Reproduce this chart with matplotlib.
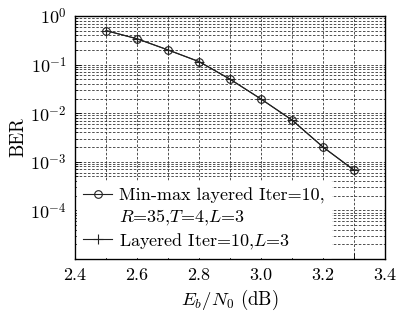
import matplotlib
matplotlib.use("Agg")
import matplotlib.pyplot as plt
from matplotlib.lines import Line2D
from matplotlib.ticker import FixedLocator, LogLocator, NullFormatter, FixedFormatter

plt.rcParams['font.family'] = 'serif'
plt.rcParams['font.serif'] = ['cmr10', 'DejaVu Serif']
plt.rcParams['mathtext.fontset'] = 'cm'
plt.rcParams['axes.formatter.use_mathtext'] = True

ebn0 = [2.5, 2.6, 2.7, 2.8, 2.9, 3.0, 3.1, 3.2, 3.3]
ber_minmax = [0.50, 0.34, 0.20, 0.115, 0.050, 0.0195, 0.0072, 0.0020, 0.00067]
ber_layered = [0.50, 0.34, 0.20, 0.115, 0.050, 0.0195, 0.0072, 0.0020, 0.00067]
xtick_vals = [2.4, 2.5, 2.6, 2.7, 2.8, 2.9, 3.0, 3.1, 3.2, 3.3, 3.4]
xtick_labels = ['2.4', '', '2.6', '', '2.8', '', '3.0', '', '3.2', '', '3.4']
ytick_vals = [1e-5, 1e-4, 1e-3, 1e-2, 1e-1, 1e0]
ytick_labels = ['', r'$10^{-4}$', r'$10^{-3}$', r'$10^{-2}$', r'$10^{-1}$', r'$10^{0}$']
legend_labels = ['Min-max layered Iter=10,', '$R$=35,$T$=4,$L$=3', 'Layered Iter=10,$L$=3']

fig = plt.figure(figsize=(3.97, 3.2), dpi=100)
ax = fig.add_axes([0.189, 0.191, 0.781, 0.759])

l1, = ax.semilogy(ebn0, ber_minmax, color='#222222', lw=0.8, marker='o', ms=5.5,
                  mfc='none', mec='#222222', mew=0.8)
l2, = ax.semilogy(ebn0, ber_layered, color='#222222', lw=0.8, marker='+', ms=7,
                  mew=0.8)
blank = Line2D([], [], color='none', lw=0)

ax.set_xlim(2.4, 3.4)
ax.set_ylim(1e-5, 1)
ax.xaxis.set_major_locator(FixedLocator(xtick_vals))
ax.xaxis.set_major_formatter(FixedFormatter(xtick_labels))
ax.yaxis.set_major_locator(FixedLocator(ytick_vals))
ax.yaxis.set_major_formatter(FixedFormatter(ytick_labels))
ax.yaxis.set_minor_locator(LogLocator(base=10, subs=range(2, 10), numticks=50))
ax.yaxis.set_minor_formatter(NullFormatter())

ax.tick_params(which='both', direction='in', labelsize=13, top=False, right=False)
ax.tick_params(which='major', length=4, width=0.6, pad=6)
ax.tick_params(which='minor', length=2, width=0.5)

ax.grid(True, which='major', axis='x', ls=(0, (3, 2)), color='#333333', lw=0.6)
ax.grid(True, which='both', axis='y', ls=(0, (3, 2)), color='#333333', lw=0.6)
for s in ax.spines.values():
    s.set_linewidth(1.0)

ax.set_xlabel('$E_b/N_0$ (dB)', fontsize=13.5, labelpad=4)
ax.set_ylabel('BER', fontsize=13.5, labelpad=2)

leg = ax.legend([l1, blank, l2], legend_labels, loc='lower left', fontsize=13,
                frameon=True, fancybox=False,
                edgecolor='white', facecolor='white', framealpha=1.0,
                handlelength=1.6, borderpad=0.35, labelspacing=0.2,
                handletextpad=0.4, borderaxespad=0.1)

fig.savefig('out.png', dpi=100)
